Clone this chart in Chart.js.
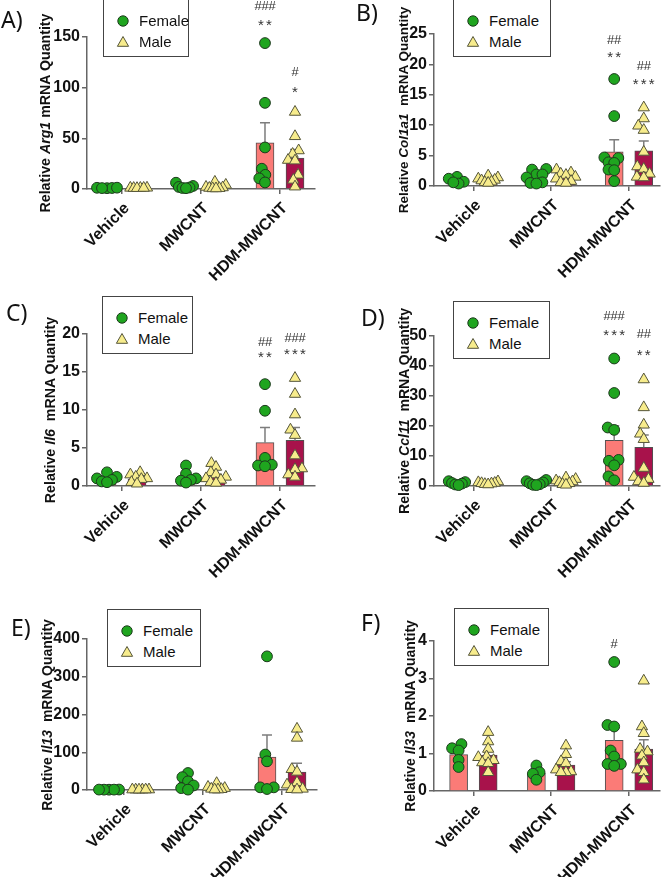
<!DOCTYPE html>
<html>
<head>
<meta charset="utf-8">
<script src="https://cdn.jsdelivr.net/npm/chart.js@4.4.0/dist/chart.umd.min.js"></script>
<style>
  body { margin: 0; background: #fff; }
  #fig { position: relative; width: 667px; height: 877px; overflow: hidden; font-family: "Liberation Sans", Arial, sans-serif; }
  .panel { position: absolute; }
  .letter { position: absolute; font-family: "Noto Sans", sans-serif; font-size: 23px; line-height: 23px; color: #111; }
  .ytitle { position: absolute; font-weight: bold; white-space: pre; color: #111;
            transform: translate(-50%, -50%) rotate(-90deg); }
  .legend { position: absolute; border: 1px solid #444; background: #fff; height: 56px; }
  .legend .row { position: absolute; left: 12px; font-size: 15px; line-height: 16px; color: #111; }
  .legend svg { position: absolute; left: 0; top: 1px; }
  .legend span { position: absolute; left: 23px; top: 0; white-space: nowrap; }
</style>
</head>
<body>
<div id="fig"></div>
<script>
const GROUPS = ["Vehicle", "MWCNT", "HDM-MWCNT"];

// A) Arg1
const arg1Female = [[1.2, 0.8, 1.0, 0.9, 1.3], [6.2, 3.0, 2.0, 1.5, 1.0, 0.8], [144, 85, 41, 20, 14, 10.5, 6.5]];
const arg1Male = [[1.1, 0.9, 1.0, 0.8, 1.2, 1.0], [7.0, 4.0, 2.0, 1.5, 1.0, 0.8, 0.6, 0.5], [76, 52, 38, 34.5, 28.6, 28, 14, 9, 2.3]];
const arg1FemaleMean = [1.0, 2.4, 45.5];
const arg1FemaleSem = [0.1, 0.8, 20];
const arg1MaleMean = [1.0, 2.2, 30.5];
const arg1MaleSem = [0.1, 0.8, 8.5];
const arg1Marks = [["###", 2, -1, 181], ["**", 2, -1, 166], ["#", 2, 1, 116], ["*", 2, 1, 100]];

// B) Col1a1
const col1a1Female = [[1.5, 1.2, 0.7, 0.4, 0.6], [2.8, 2.7, 1.9, 1.9, 1.4, 0.6, 0.5, 0.4], [17.6, 11.5, 4.7, 4.6, 3.9, 3.8, 2.7, 2.6, 0.8]];
const col1a1Male = [[1.7, 1.4, 1.2, 1.0, 0.9, 0.7, 0.6, 0.5], [2.7, 2.2, 2.0, 1.8, 1.5, 1.2, 0.8, 0.6, 0.5], [12.9, 11.1, 9.9, 9.2, 5.6, 3.2, 2.8, 2.0, 1.5, 1.4]];
const col1a1FemaleMean = [0.9, 1.3, 5.6];
const col1a1FemaleSem = [0.2, 0.3, 2.0];
const col1a1MaleMean = [1.0, 1.4, 5.8];
const col1a1MaleSem = [0.15, 0.25, 1.6];
const col1a1Marks = [["##", 2, -1, 24.1], ["**", 2, -1, 21.9], ["##", 2, 1, 19.9], ["***", 2, 1, 17.5]];

// C) Il6
const il6Female = [[1.8, 1.2, 1.0, 0.8, 0.6, 0.5], [2.7, 1.6, 1.0, 0.8, 0.7, 0.45], [13.4, 9.9, 3.7, 2.8, 2.7, 2.6]];
const il6Male = [[1.8, 1.5, 1.2, 1.0, 0.9, 0.5, 0.3], [3.0, 2.5, 1.8, 1.5, 1.2, 1.0, 0.8, 0.5, 0.4], [14.2, 12.1, 9.4, 7.4, 6.7, 4.0, 2.3, 2.2, 1.5, 1.2]];
const il6FemaleMean = [0.9, 1.1, 5.7];
const il6FemaleSem = [0.2, 0.35, 2.0];
const il6MaleMean = [0.9, 1.2, 6.0];
const il6MaleSem = [0.2, 0.3, 1.7];
const il6Marks = [["##", 2, -1, 19.0], ["**", 2, -1, 17.6], ["###", 2, 1, 19.6], ["***", 2, 1, 17.9]];

// D) Ccl11
const ccl11Female = [[1.6, 1.3, 1.0, 0.8, 0.5, 0.3], [2.0, 1.6, 1.2, 0.9, 0.6, 0.4, 0.3], [42.5, 31, 19.5, 18.7, 8.7, 8.4, 6.9, 3.2, 1.9]];
const ccl11Male = [[1.5, 1.2, 1.0, 0.9, 0.8, 0.6, 0.5], [2.8, 2.3, 1.8, 1.5, 1.2, 0.9, 0.6, 0.4], [35.5, 26.2, 20.4, 17.4, 15.6, 6.0, 3.0, 2.3, 1.5, 1.0]];
const ccl11FemaleMean = [0.9, 1.0, 15.2];
const ccl11FemaleSem = [0.2, 0.25, 4.9];
const ccl11MaleMean = [0.9, 1.3, 12.9];
const ccl11MaleSem = [0.15, 0.3, 4.1];
const ccl11Marks = [["###", 2, -1, 56.9], ["***", 2, -1, 51.9], ["##", 2, 1, 50.8], ["**", 2, 1, 45.2]];

// E) Il13
const il13Female = [[1.2, 0.8, 1.0, 0.9, 1.1], [45, 34, 23, 12, 5, 1], [354, 94, 76, 7, 7, 2.6]];
const il13Male = [[1.0, 0.9, 1.1, 0.8, 1.2, 1.0], [18, 8, 5, 3, 2, 1, 1], [162, 138, 55, 48, 20, 14, 3, 2, 1]];
const il13FemaleMean = [1.0, 20, 87.5];
const il13FemaleSem = [0.1, 7, 58];
const il13MaleMean = [1.0, 5.4, 47.7];
const il13MaleSem = [0.1, 2.4, 23];
const il13Marks = [];

// F) Il33
const il33Female = [[1.25, 1.14, 1.08, 0.83, 0.64], [0.68, 0.5, 0.46, 0.3], [3.44, 1.76, 1.72, 1.08, 0.92, 0.72, 0.72, 0.67]];
const il33Male = [[1.57, 1.32, 1.12, 0.92, 0.9, 0.82, 0.76, 0.74, 0.5], [1.21, 0.98, 0.79, 0.74, 0.57, 0.52, 0.5, 0.5], [2.94, 1.72, 1.54, 1.12, 1.05, 0.94, 0.76, 0.57, 0.5, 0.3]];
const il33FemaleMean = [0.97, 0.47, 1.35];
const il33FemaleSem = [0.11, 0.08, 0.33];
const il33MaleMean = [0.96, 0.69, 1.12];
const il33MaleSem = [0.11, 0.09, 0.25];
const il33Marks = [["#", 2, -1, 3.93]];

const FEMALE_BAR = "#fb7b77";
const MALE_BAR = "#a8124b";
const GREEN = "#1fa51f";
const YELLOW = "#f7ec8c";
const TICK_FONT = { family: "'Liberation Sans', Arial, sans-serif", size: 16, weight: "bold" };
const X_OFF = 0.19;        // bar offset from group centre, in group units
const PX_PER_GROUP = 79;

const PANELS = [
  { letter: "A", gene: "Arg1", gap: " ", f: arg1Female, m: arg1Male, fMean: arg1FemaleMean, fSem: arg1FemaleSem, mMean: arg1MaleMean, mSem: arg1MaleSem,
    marks: arg1Marks, yMax: 150, yStep: 50,
    box: [0, 0, 330, 290], axisX: 87, firstTick: 122, right: 315, plotTop: 37, zero: 189, titleX: 45, titleSize: 14.2,
    legend: [103, -1, 84], letterPos: [1, 8] },
  { letter: "B", gene: "Col1a1", gap: "  ", f: col1a1Female, m: col1a1Male, fMean: col1a1FemaleMean, fSem: col1a1FemaleSem, mMean: col1a1MaleMean, mSem: col1a1MaleSem,
    marks: col1a1Marks, yMax: 25, yStep: 5,
    box: [330, 0, 337, 290], axisX: 434, firstTick: 474, right: 663, plotTop: 34, zero: 186, titleX: 403, titleSize: 13.5,
    legend: [453, -1, 96], letterPos: [356, 1] },
  { letter: "C", gene: "Il6", gap: "  ", f: il6Female, m: il6Male, fMean: il6FemaleMean, fSem: il6FemaleSem, mMean: il6MaleMean, mSem: il6MaleSem,
    marks: il6Marks, yMax: 20, yStep: 5,
    box: [0, 290, 330, 290], axisX: 87, firstTick: 122, right: 315, plotTop: 334, zero: 486, titleX: 50, titleSize: 14.2,
    legend: [102, 296, 89], letterPos: [6, 301] },
  { letter: "D", gene: "Ccl11", gap: "  ", f: ccl11Female, m: ccl11Male, fMean: ccl11FemaleMean, fSem: ccl11FemaleSem, mMean: ccl11MaleMean, mSem: ccl11MaleSem,
    marks: ccl11Marks, yMax: 50, yStep: 10,
    box: [330, 290, 337, 290], axisX: 434, firstTick: 474, right: 663, plotTop: 336, zero: 486, titleX: 404, titleSize: 14.1,
    legend: [453, 301, 95], letterPos: [361, 306] },
  { letter: "E", gene: "Il13", gap: "  ", f: il13Female, m: il13Male, fMean: il13FemaleMean, fSem: il13FemaleSem, mMean: il13MaleMean, mSem: il13MaleSem,
    marks: il13Marks, yMax: 400, yStep: 100,
    box: [0, 580, 330, 297], axisX: 87, firstTick: 124, right: 317, plotTop: 639, zero: 790, titleX: 47, titleSize: 14,
    legend: [107, 609, 92], letterPos: [11, 616] },
  { letter: "F", gene: "Il33", gap: "  ", f: il33Female, m: il33Male, fMean: il33FemaleMean, fSem: il33FemaleSem, mMean: il33MaleMean, mSem: il33MaleSem,
    marks: il33Marks, yMax: 4, yStep: 1,
    box: [330, 580, 337, 297], axisX: 434, firstTick: 474, right: 663, plotTop: 641, zero: 791, titleX: 410, titleSize: 14,
    legend: [454, 608, 93], letterPos: [361, 611] }
];

// beeswarm-ish spread of points, in pixels, squeezed to a max half width
function swarmOffsets(values, pxPerUnit) {
  const d = 7, limit = 10;
  const idx = values.map((v, i) => i).sort((a, b) => values[a] - values[b]);
  const placed = [];
  const out = [];
  for (const i of idx) {
    const y = values[i] * pxPerUnit;
    const blocks = [];
    for (const p of placed) {
      const dy = Math.abs(p.y - y);
      if (dy < d) {
        const dx = Math.sqrt(d * d - dy * dy);
        blocks.push([p.x - dx, p.x + dx]);
      }
    }
    const cands = [0];
    blocks.forEach(b => cands.push(b[0], b[1]));
    cands.sort((a, b) => Math.abs(a) - Math.abs(b));
    let x = 0;
    for (const c of cands) {
      if (blocks.every(b => c <= b[0] + 1e-6 || c >= b[1] - 1e-6)) { x = c; break; }
    }
    placed.push({ x, y });
    out[i] = x;
  }
  const widest = Math.max(...out.map(Math.abs));
  const k = widest > limit ? limit / widest : 1;
  return out.map(x => x * k);
}

function pointsFor(groups, side, pxPerUnit) {
  return groups.flatMap((vals, g) => {
    const offs = swarmOffsets(vals, pxPerUnit);
    return vals.map((v, k) => ({ x: g + side * X_OFF + offs[k] / PX_PER_GROUP, y: v }));
  });
}

const errorBarPlugin = {
  id: "errorBars",
  afterDatasetDraw(chart, args) {
    const ds = chart.data.datasets[args.index];
    if (!ds.sem) return;
    const ctx = chart.ctx;
    const y = chart.scales.y;
    ctx.save();
    ctx.strokeStyle = "#7d7d7d";
    ctx.lineWidth = 1.5;
    args.meta.data.forEach((bar, i) => {
      const top = y.getPixelForValue(ds.data[i].y + ds.sem[i]);
      ctx.beginPath();
      ctx.moveTo(bar.x, bar.y);
      ctx.lineTo(bar.x, top);
      ctx.moveTo(bar.x - 5, top);
      ctx.lineTo(bar.x + 5, top);
      ctx.stroke();
    });
    ctx.restore();
  }
};

function marksPlugin(marks) {
  return {
    id: "sigMarks",
    afterDraw(chart) {
      const ctx = chart.ctx;
      const xs = chart.scales.x, ys = chart.scales.y;
      ctx.save();
      ctx.fillStyle = "#333";
      ctx.textAlign = "center";
      ctx.textBaseline = "alphabetic";
      for (const [text, g, side, val] of marks) {
        const cx = xs.getPixelForValue(g + side * X_OFF);
        const cy = ys.getPixelForValue(val);
        const star = text[0] === "*";
        ctx.font = (star ? "15px" : "13px") + " 'Liberation Sans', Arial, sans-serif";
        const pitch = star ? 8 : 7;
        const base = cy + (star ? 9.5 : 4.7);
        for (let k = 0; k < text.length; k++) {
          ctx.fillText(text[k], cx + (k - (text.length - 1) / 2) * pitch, base);
        }
      }
      ctx.restore();
    }
  };
}

const fig = document.getElementById("fig");

function markerSvg(isFemale) {
  return isFemale
    ? '<svg width="14" height="14"><circle cx="7" cy="7" r="5.2" fill="' + GREEN + '" stroke="#1d3a1d" stroke-width="1"/></svg>'
    : '<svg width="14" height="14"><polygon points="7,1.5 12.6,11.3 1.4,11.3" fill="' + YELLOW + '" stroke="#55553a" stroke-width="1"/></svg>';
}

for (const p of PANELS) {
  const [bx, by, bw, bh] = p.box;

  const holder = document.createElement("div");
  holder.className = "panel";
  holder.style.left = bx + "px";
  holder.style.top = by + "px";
  holder.style.width = bw + "px";
  holder.style.height = bh + "px";
  const canvas = document.createElement("canvas");
  canvas.width = bw;
  canvas.height = bh;
  holder.appendChild(canvas);
  fig.appendChild(holder);

  const pxPerUnit = (p.zero - p.plotTop) / p.yMax;
  const xMin = -(p.firstTick - p.axisX) / PX_PER_GROUP;
  const xMax = 2 + (p.right - (p.firstTick + 2 * PX_PER_GROUP)) / PX_PER_GROUP;
  const yAxisWidth = p.axisX - bx;
  const xAxisHeight = by + bh - p.zero;

  new Chart(canvas, {
    type: "bar",
    data: {
      datasets: [
        {
          label: "Female", data: p.fMean.map((v, i) => ({ x: i - X_OFF, y: v })), sem: p.fSem,
          backgroundColor: FEMALE_BAR, borderColor: "#505050", borderWidth: 1, barThickness: 18,
          grouped: false, order: 3
        },
        {
          label: "Male", data: p.mMean.map((v, i) => ({ x: i + X_OFF, y: v })), sem: p.mSem,
          backgroundColor: MALE_BAR, borderColor: "#505050", borderWidth: 1, barThickness: 18,
          grouped: false, order: 3
        },
        {
          type: "scatter", label: "Female", data: pointsFor(p.f, -1, pxPerUnit),
          pointStyle: "circle", pointRadius: 5.4, backgroundColor: GREEN, borderColor: "#1d3a1d",
          borderWidth: 1, clip: false, order: 1
        },
        {
          type: "scatter", label: "Male", data: pointsFor(p.m, 1, pxPerUnit),
          pointStyle: "triangle", pointRadius: 6.5, backgroundColor: YELLOW, borderColor: "#55553a",
          borderWidth: 1, clip: false, order: 1
        }
      ]
    },
    options: {
      responsive: false,
      animation: false,
      events: [],
      layout: { padding: { top: p.plotTop - by, right: bx + bw - p.right, left: 0, bottom: 0 } },
      plugins: { legend: { display: false }, tooltip: { enabled: false } },
      scales: {
        x: {
          type: "linear", min: xMin, max: xMax, offset: false,
          afterBuildTicks: s => { s.ticks = [0, 1, 2].map(v => ({ value: v })); },
          afterFit: s => { s.height = xAxisHeight; },
          grid: { offset: false, drawOnChartArea: false, drawTicks: true, tickLength: 5, color: "#666", lineWidth: 1.5 },
          border: { color: "#666", width: 1.5 },
          ticks: {
            autoSkip: false, minRotation: 45, maxRotation: 45, padding: 5, labelOffset: 5, color: "#111",
            font: TICK_FONT,
            callback: v => GROUPS[v]
          }
        },
        y: {
          min: 0, max: p.yMax,
          afterFit: s => { s.width = yAxisWidth; },
          grid: { drawOnChartArea: false, drawTicks: true, tickLength: 5, color: "#666", lineWidth: 1.5 },
          border: { color: "#666", width: 1.5 },
          ticks: { stepSize: p.yStep, padding: 2, color: "#111", font: TICK_FONT }
        }
      }
    },
    plugins: [errorBarPlugin, marksPlugin(p.marks)]
  });

  const title = document.createElement("div");
  title.className = "ytitle";
  title.style.left = p.titleX + "px";
  title.style.top = ((p.plotTop + p.zero) / 2) + "px";
  title.style.fontSize = p.titleSize + "px";
  title.innerHTML = "Relative <i>" + p.gene + "</i>" + p.gap + "mRNA Quantity";
  fig.appendChild(title);

  const letter = document.createElement("div");
  letter.className = "letter";
  letter.style.left = p.letterPos[0] + "px";
  letter.style.top = p.letterPos[1] + "px";
  letter.textContent = p.letter + ")";
  fig.appendChild(letter);

  const lg = document.createElement("div");
  lg.className = "legend";
  lg.style.left = p.legend[0] + "px";
  lg.style.top = p.legend[1] + "px";
  lg.style.width = p.legend[2] + "px";
  lg.innerHTML =
    '<div class="row" style="top:13px">' + markerSvg(true) + "<span>Female</span></div>" +
    '<div class="row" style="top:34px">' + markerSvg(false) + "<span>Male</span></div>";
  fig.appendChild(lg);
}
</script>
</body>
</html>
